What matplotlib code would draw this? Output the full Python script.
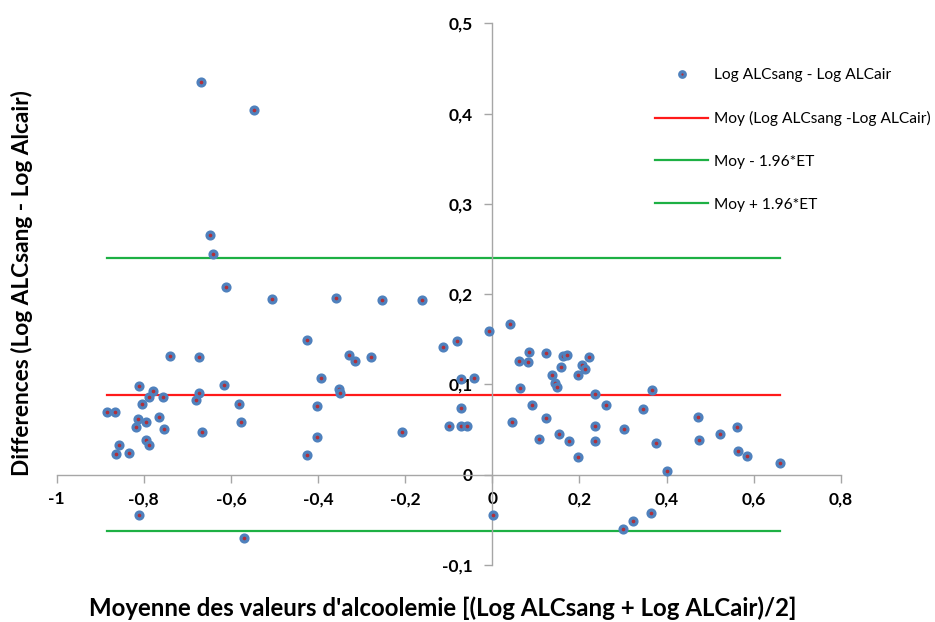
import matplotlib
matplotlib.use("Agg")
import matplotlib.pyplot as plt

plt.rcParams['font.family'] = ['Lato', 'DejaVu Sans']

x_mean = [-0.668, -0.548, -0.648, -0.640, -0.611, -0.506, -0.359, -0.740, -0.673, -0.810,
          -0.778, -0.789, -0.755, -0.673, -0.680, -0.617, -0.803, -0.581, -0.885, -0.866,
          -0.813, -0.795, -0.764, -0.818, -0.753, -0.578, -0.667, -0.795, -0.789, -0.857,
          -0.863, -0.833, -0.810, -0.571, -0.2525, -0.162, -0.426, -0.330, -0.315, -0.279,
          -0.113, -0.081, -0.008, -0.393, -0.3525, -0.350, -0.072, -0.043, -0.403, -0.072,
          -0.403, -0.100, -0.073, -0.059, -0.207, -0.426, 0.0415, 0.0846, 0.0622, 0.0823,
          0.124, 0.163, 0.172, 0.2228, 0.157, 0.206, 0.213, 0.1376, 0.197, 0.1445,
          0.1475, 0.0645, 0.2366, 0.367, 0.0915, 0.262, 0.347, 0.046, 0.124, 0.2366,
          0.302, 0.107, 0.152, 0.177, 0.235, 0.3765, 0.197, 0.400, 0.001, 0.3226,
          0.365, 0.300, 0.471, 0.474, 0.523, 0.561, 0.565, 0.584, 0.660]
y_diff = [0.435, 0.404, 0.265, 0.244, 0.208, 0.195, 0.196, 0.131, 0.130, 0.098,
          0.093, 0.086, 0.086, 0.090, 0.083, 0.099, 0.0785, 0.0785, 0.0696, 0.0696,
          0.062, 0.0585, 0.064, 0.0533, 0.0503, 0.0585, 0.0474, 0.0385, 0.033, 0.0333,
          0.0233, 0.0237, -0.0444, -0.070, 0.1933, 0.1933, 0.149, 0.133, 0.126, 0.130,
          0.142, 0.148, 0.159, 0.107, 0.095, 0.0907, 0.106, 0.107, 0.0763, 0.0737,
          0.0422, 0.0544, 0.0544, 0.0544, 0.0478, 0.0222, 0.1667, 0.1356, 0.126, 0.1244,
          0.1344, 0.131, 0.133, 0.130, 0.119, 0.1214, 0.1167, 0.111, 0.110, 0.102,
          0.0974, 0.0959, 0.0896, 0.0937, 0.0774, 0.077, 0.0733, 0.0585, 0.0626, 0.0544,
          0.0503, 0.040, 0.0448, 0.037, 0.037, 0.0356, 0.0196, 0.0044, -0.0441, -0.0508,
          -0.0426, -0.0604, 0.064, 0.0385, 0.0452, 0.053, 0.0263, 0.0204, 0.0126]

mean_diff = 0.0885
lower_limit = -0.0627
upper_limit = 0.2396

x_ticks = [-1, -0.8, -0.6, -0.4, -0.2, 0, 0.2, 0.4, 0.6, 0.8]
x_tick_labels = ['-1', '-0,8', '-0,6', '-0,4', '-0,2', '0', '0,2', '0,4', '0,6', '0,8']
y_ticks = [-0.1, 0, 0.1, 0.2, 0.3, 0.4, 0.5]
y_tick_labels = ['-0,1', '0', '0,1', '0,2', '0,3', '0,4', '0,5']

series_labels = ['Log ALCsang - Log ALCair', 'Moy (Log ALCsang -Log ALCair)',
                 'Moy - 1.96*ET', 'Moy + 1.96*ET']

fig = plt.figure(figsize=(9.35, 6.22), dpi=100)
ax = fig.add_axes([0.0606, 0.0916, 0.8387, 0.8709])

xr = [min(x_mean), max(x_mean)]
pts, = ax.plot(x_mean, y_diff, linestyle='none', marker='o', ms=5, mew=2.3,
               mfc='#b0303a', mec='#4f81bd', zorder=3)
l_mean, = ax.plot(xr, [mean_diff] * 2, color='#ff1a1a', lw=1.6, zorder=2)
l_low, = ax.plot(xr, [lower_limit] * 2, color='#1db044', lw=1.6, zorder=2)
l_up, = ax.plot(xr, [upper_limit] * 2, color='#1db044', lw=1.6, zorder=2)

ax.set_xlim(-1, 0.8)
ax.set_ylim(-0.1, 0.5)
for s in ['top', 'right']:
    ax.spines[s].set_visible(False)
ax.spines['left'].set_position(('data', 0))
ax.spines['bottom'].set_position(('data', 0))
for s in ['left', 'bottom']:
    ax.spines[s].set_color('#a6a6a6')
    ax.spines[s].set_linewidth(1.0)

ax.set_xticks(x_ticks)
ax.set_xticklabels(x_tick_labels, fontsize=12.5, fontweight='bold')
ax.set_yticks(y_ticks)
ax.set_yticklabels(y_tick_labels, fontsize=12.5, fontweight='bold')
ax.tick_params(axis='x', direction='out', length=6, width=1, color='#a6a6a6', pad=6)
ax.tick_params(axis='y', direction='out', length=6, width=1, color='#a6a6a6', pad=8)

fig.text(0.474, 0.0225, "Moyenne des valeurs d'alcoolemie [(Log ALCsang + Log ALCair)/2]",
         ha='center', va='center', fontsize=17.3, fontweight='bold')
fig.text(0.024, 0.545, "Differences (Log ALCsang - Log Alcair)", rotation=90,
         ha='center', va='center', fontsize=16.3, fontweight='bold')

leg = fig.legend([pts, l_mean, l_low, l_up], series_labels,
                 loc='upper left', bbox_to_anchor=(0.686, 0.913), frameon=False,
                 fontsize=11.2, labelspacing=1.85, handlelength=3.4, handletextpad=0.35,
                 markerscale=0.8)

fig.savefig('out.png', dpi=100)
